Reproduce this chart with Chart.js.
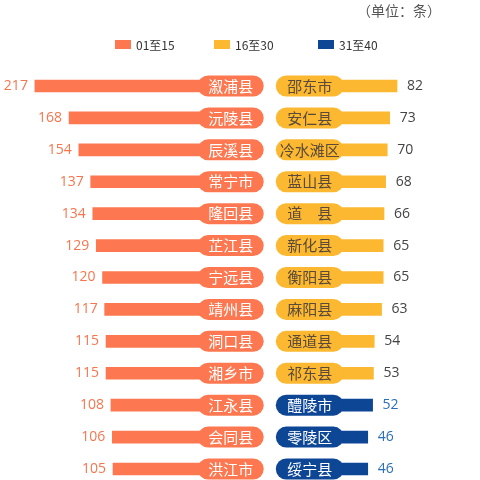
<!DOCTYPE html>
<html>
<head>
<meta charset="utf-8">
<script src="https://cdn.jsdelivr.net/npm/chart.js@4/dist/chart.umd.min.js"></script>
<style>
  html, body { margin: 0; padding: 0; background: #fff; overflow: hidden; }
  #c { display: block; }
</style>
</head>
<body>
<canvas id="c" width="480" height="480"></canvas>
<script>
// 左侧：排名 01 至 15
var leftNames = ['溆浦县', '沅陵县', '辰溪县', '常宁市', '隆回县', '芷江县', '宁远县', '靖州县', '洞口县', '湘乡市', '江永县', '会同县', '洪江市'];
var leftValues = [217, 168, 154, 137, 134, 129, 120, 117, 115, 115, 108, 106, 105];

// 右侧：16 至 30 / 31 至 40
var rightNames = ['邵东市', '安仁县', '冷水滩区', '蓝山县', '道　县', '新化县', '衡阳县', '麻阳县', '通道县', '祁东县', '醴陵市', '零陵区', '绥宁县'];
var rightValues = [82, 73, 70, 68, 66, 65, 65, 63, 54, 53, 52, 46, 46];
var rightGroups = ['16至30', '16至30', '16至30', '16至30', '16至30', '16至30', '16至30', '16至30', '16至30', '16至30', '31至40', '31至40', '31至40'];

var groupNames = ['01至15', '16至30', '31至40'];
var unitText = '（单位：条）';

var ORANGE = '#FD7851';
var YELLOW = '#FBB830';
var BLUE = '#0E4696';

var cjk = '"Noto Sans CJK SC", sans-serif';
var num = '"Open Sans", "Noto Sans", sans-serif';

function pick(group) {
  return rightValues.map(function (v, i) { return rightGroups[i] === group ? v : null; });
}

// 胶囊标签、数值、图例
var decor = {
  id: 'decor',
  afterDatasetsDraw: function (chart) {
    var ctx = chart.ctx;
    var xL = chart.scales.xL, xR = chart.scales.xR, y = chart.scales.y;
    var lEnd = xL.getPixelForValue(-111);
    var rStart = xR.getPixelForValue(-67);
    var pw = 66, ph = 21;

    ctx.save();
    ctx.textBaseline = 'middle';
    for (var i = 0; i < leftNames.length; i++) {
      var cy = y.getPixelForValue(i);

      // 左侧胶囊
      ctx.fillStyle = ORANGE;
      ctx.beginPath();
      ctx.roundRect(lEnd - pw, cy - ph / 2, pw, ph, ph / 2);
      ctx.fill();
      ctx.fillStyle = '#fff';
      ctx.font = '15px ' + cjk;
      ctx.textAlign = 'center';
      ctx.fillText(leftNames[i], lEnd - pw / 2, cy);

      // 左侧数值
      ctx.fillStyle = '#F5764E';
      ctx.font = '14px ' + num;
      ctx.textAlign = 'right';
      ctx.fillText(leftValues[i], xL.getPixelForValue(leftValues[i]) - 7, cy);

      // 右侧胶囊
      var blue = rightGroups[i] === '31至40';
      ctx.fillStyle = blue ? BLUE : YELLOW;
      ctx.beginPath();
      ctx.roundRect(rStart, cy - ph / 2, pw + 2, ph, ph / 2);
      ctx.fill();
      ctx.fillStyle = blue ? '#fff' : '#5a4a3a';
      ctx.font = '15px ' + cjk;
      ctx.textAlign = 'center';
      ctx.fillText(rightNames[i], rStart + (pw + 2) / 2, cy);

      // 右侧数值
      ctx.fillStyle = blue ? '#2a70b8' : '#444';
      ctx.font = '14px ' + num;
      ctx.textAlign = 'left';
      ctx.fillText(rightValues[i], xR.getPixelForValue(rightValues[i]) + 10, cy);
    }

    // 单位
    ctx.fillStyle = '#555';
    ctx.font = '14px ' + cjk;
    ctx.textAlign = 'right';
    ctx.fillText(unitText, 441, 11);

    // 图例
    var colors = [ORANGE, YELLOW, BLUE];
    var lx = [115, 214, 318];
    ctx.font = '12px ' + cjk;
    ctx.textAlign = 'left';
    for (var k = 0; k < groupNames.length; k++) {
      ctx.fillStyle = colors[k];
      ctx.fillRect(lx[k], 40, 16, 9);
      ctx.fillStyle = '#333';
      ctx.fillText(groupNames[k], lx[k] + 21, 45);
    }
    ctx.restore();
  }
};

var chart = new Chart(document.getElementById('c').getContext('2d'), {
  type: 'bar',
  data: {
    labels: leftNames,
    datasets: [{
      label: groupNames[0],
      data: leftValues,
      xAxisID: 'xL',
      base: -97,
      backgroundColor: ORANGE,
      barThickness: 12,
      grouped: false,
      clip: false
    }, {
      label: groupNames[1],
      data: pick(groupNames[1]),
      xAxisID: 'xR',
      base: -55,
      backgroundColor: YELLOW,
      barThickness: 12,
      grouped: false,
      clip: false
    }, {
      label: groupNames[2],
      data: pick(groupNames[2]),
      xAxisID: 'xR',
      base: -55,
      backgroundColor: BLUE,
      barThickness: 12,
      grouped: false,
      clip: false
    }]
  },
  options: {
    indexAxis: 'y',
    responsive: false,
    animation: false,
    layout: { padding: { top: 86, bottom: 11, left: 0, right: 0 } },
    scales: {
      y: { type: 'category', display: false, offset: false },
      xL: { type: 'linear', display: false, reverse: true, min: -421, max: 267 },
      xR: { type: 'linear', display: false, min: -406, max: 184 }
    },
    plugins: {
      legend: { display: false },
      tooltip: { enabled: false }
    }
  },
  plugins: [decor]
});
</script>
</body>
</html>
